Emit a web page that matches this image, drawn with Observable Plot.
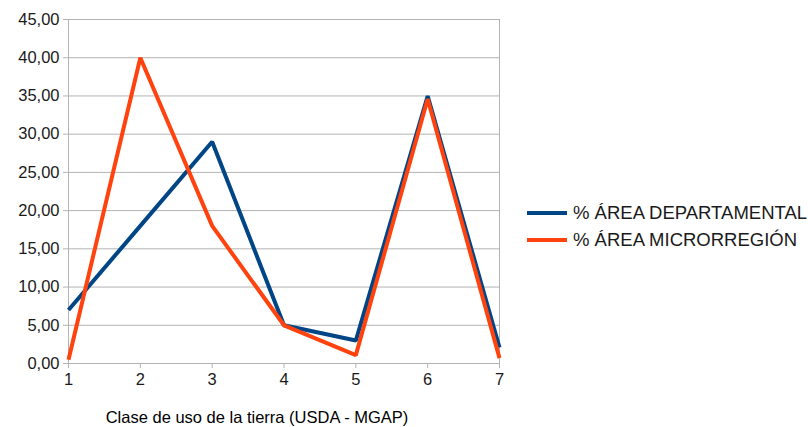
<!DOCTYPE html>
<html>
<head>
<meta charset="utf-8">
<script src="https://cdn.jsdelivr.net/npm/d3@7"></script>
<script src="https://cdn.jsdelivr.net/npm/@observablehq/plot@0.6"></script>
<style>
  body { margin: 0; background: #fff; font-family: "Liberation Sans", Arial, sans-serif; }
  #wrap { position: relative; width: 808px; height: 427px; overflow: hidden; }
  #xlabel { position: absolute; left: 0; width: 514px; top: 408px; text-align: center; font-size: 16.5px; color: #000; white-space: nowrap; }
  #legend { position: absolute; left: 527px; top: 199px; font-size: 18.5px; color: #1a1a1a; }
  .li { display: flex; align-items: center; height: 27px; white-space: nowrap; }
  .sw { width: 40px; height: 4px; margin-right: 6px; }
</style>
</head>
<body>
<div id="wrap">
  <div id="chart"></div>
  <div id="xlabel"></div>
  <div id="legend"></div>
</div>
<script>
const clases = [1, 2, 3, 4, 5, 6, 7];
const seriesNames = ["% ÁREA DEPARTAMENTAL", "% ÁREA MICRORREGIÓN"];
const departamental = [7.0, 18.0, 29.0, 5.0, 3.0, 35.0, 2.1];
const microrregion = [0.5, 40.0, 18.0, 5.0, 1.1, 34.6, 0.7];
const colors = ["#004586", "#ff420e"];
const yTicks = [0, 5, 10, 15, 20, 25, 30, 35, 40, 45];
const xTitle = "Clase de uso de la tierra (USDA - MGAP)";

const data = [];
clases.forEach((c, i) => data.push({clase: c, valor: departamental[i], serie: seriesNames[0]}));
clases.forEach((c, i) => data.push({clase: c, valor: microrregion[i], serie: seriesNames[1]}));

const fmt = d => d3.format(".2f")(d).replace(".", ",");
const grid = "#b3b3b3";

const chart = Plot.plot({
  width: 808,
  height: 427,
  marginLeft: 68,
  marginRight: 309,
  marginTop: 19,
  marginBottom: 64,
  style: { fontFamily: "Liberation Sans, Arial, sans-serif", fontSize: "16px", color: "#1a1a1a", background: "#fff" },
  x: { domain: [1, 7], ticks: clases, tickFormat: d => String(d) },
  y: { domain: [0, 45], ticks: yTicks, tickFormat: fmt },
  color: { domain: seriesNames, range: colors },
  marks: [
    Plot.ruleY(yTicks, { stroke: grid, strokeWidth: 1 }),
    Plot.ruleX([1, 7], { stroke: grid, strokeWidth: 1 }),
    Plot.axisY({ ticks: yTicks, tickFormat: fmt, tickSize: 5, tickPadding: 4, stroke: grid, label: null, fontSize: 16.5 }),
    Plot.axisX({ ticks: clases, tickFormat: d => String(d), tickSize: 5, tickPadding: 5, stroke: grid, label: null, fontSize: 16.5 }),
    Plot.line(data, { x: "clase", y: "valor", z: "serie", stroke: "serie", strokeWidth: 4, strokeLinejoin: "miter", strokeLinecap: "butt" })
  ]
});
document.getElementById("chart").appendChild(chart);
document.getElementById("xlabel").textContent = xTitle;
const leg = document.getElementById("legend");
seriesNames.forEach((n, i) => {
  const row = document.createElement("div");
  row.className = "li";
  const sw = document.createElement("div");
  sw.className = "sw";
  sw.style.background = colors[i];
  const t = document.createElement("span");
  t.textContent = n;
  row.appendChild(sw); row.appendChild(t);
  leg.appendChild(row);
});
</script>
</body>
</html>
